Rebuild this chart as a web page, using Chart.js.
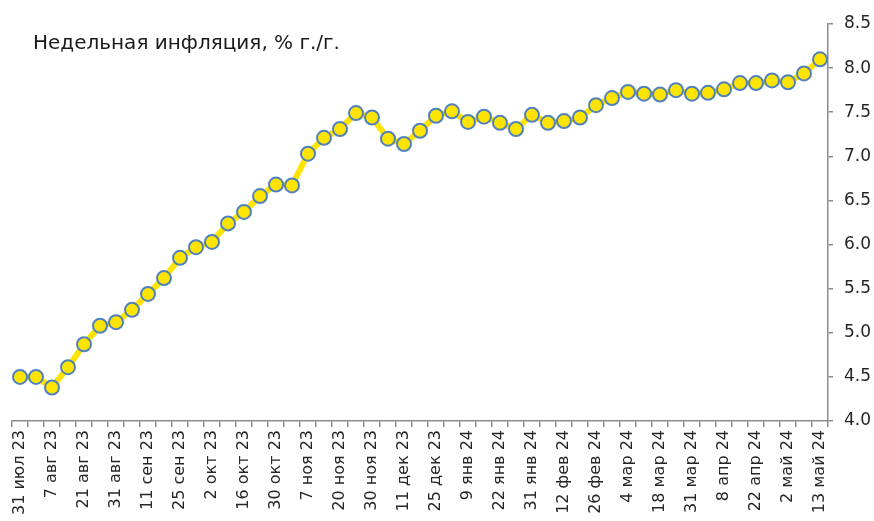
<!DOCTYPE html>
<html>
<head>
<meta charset="utf-8">
<script src="https://cdn.jsdelivr.net/npm/chart.js@4"></script>
<style>
html,body{margin:0;padding:0;background:#fff;overflow:hidden;}
#wrap{width:874px;height:521px;position:relative;}
</style>
</head>
<body>
<div id="wrap"><canvas id="c" width="874" height="521"></canvas></div>
<script>
const title = "Недельная инфляция, % г./г.";
const tickLabels = ["31 июл 23","7 авг 23","21 авг 23","31 авг 23","11 сен 23","25 сен 23","2 окт 23","16 окт 23","30 окт 23","7 ноя 23","20 ноя 23","30 ноя 23","11 дек 23","25 дек 23","9 янв 24","22 янв 24","31 янв 24","12 фев 24","26 фев 24","4 мар 24","18 мар 24","31 мар 24","8 апр 24","22 апр 24","2 май 24","13 май 24"];
const inflation = [4.50,4.50,4.38,4.61,4.87,5.08,5.12,5.26,5.44,5.62,5.85,5.97,6.03,6.24,6.37,6.55,6.68,6.67,
  7.03,7.21,7.31,7.49,7.44,7.20,7.14,7.29,7.46,7.51,7.39,7.45,7.38,7.31,7.47,7.38,7.40,7.44,
  7.58,7.66,7.73,7.71,7.70,7.75,7.71,7.72,7.76,7.83,7.83,7.86,7.84,7.94,8.10];
const yTicks = [4.0,4.5,5.0,5.5,6.0,6.5,7.0,7.5,8.0,8.5];
// one category per weekly observation; every second one carries a date label
const categories = inflation.map((v,i)=> i%2===0 ? tickLabels[i/2] : "");

const FONT = "'DejaVu Sans', sans-serif";
const AXIS = "#8c8c8c";
const TEXT = "#262626";

const titlePlugin = {
  id:'titleText',
  afterDraw(chart){
    const ctx = chart.ctx;
    ctx.save();
    ctx.font = "20px " + FONT;
    ctx.fillStyle = "#1a1a1a";
    ctx.textBaseline = "alphabetic";
    ctx.fillText(title, 33, 49);
    ctx.restore();
  }
};

new Chart(document.getElementById('c'), {
  type:'line',
  data:{
    labels:categories,
    datasets:[{
      data:inflation,
      borderColor:'#FFE400',
      borderWidth:6,
      tension:0,
      pointRadius:7,
      pointHoverRadius:7,
      pointBackgroundColor:'#FFE400',
      pointBorderColor:'#4F81BD',
      pointBorderWidth:2
    }]
  },
  options:{
    responsive:false,
    animation:false,
    events:[],
    layout:{padding:{left:12,top:24,right:3,bottom:0}},
    plugins:{legend:{display:false},tooltip:{enabled:false}},
    scales:{
      x:{
        type:'category',
        offset:true,
        grid:{display:true,offset:true,drawOnChartArea:false,drawTicks:true,tickLength:6,color:AXIS,lineWidth:1.5},
        border:{display:true,color:AXIS,width:1.5},
        ticks:{
          autoSkip:false,
          minRotation:90,maxRotation:90,
          padding:3,
          color:TEXT,
          font:{family:FONT,size:16},
          callback:(v,i)=>categories[i]
        },
        afterFit(s){ s.height = 100; }
      },
      y:{
        position:'right',
        min:4.0,max:8.5,
        afterBuildTicks(s){ s.ticks = yTicks.map(v=>({value:v})); },
        grid:{display:true,drawOnChartArea:false,drawTicks:true,tickLength:5,color:AXIS,lineWidth:1.5},
        border:{display:true,color:AXIS,width:1.5},
        ticks:{
          padding:11,
          color:TEXT,
          font:{family:FONT,size:17},
          callback:(v)=>Number(v).toFixed(1)
        },
        afterFit(s){ s.width = 43; }
      }
    }
  },
  plugins:[titlePlugin]
});
</script>
</body>
</html>
